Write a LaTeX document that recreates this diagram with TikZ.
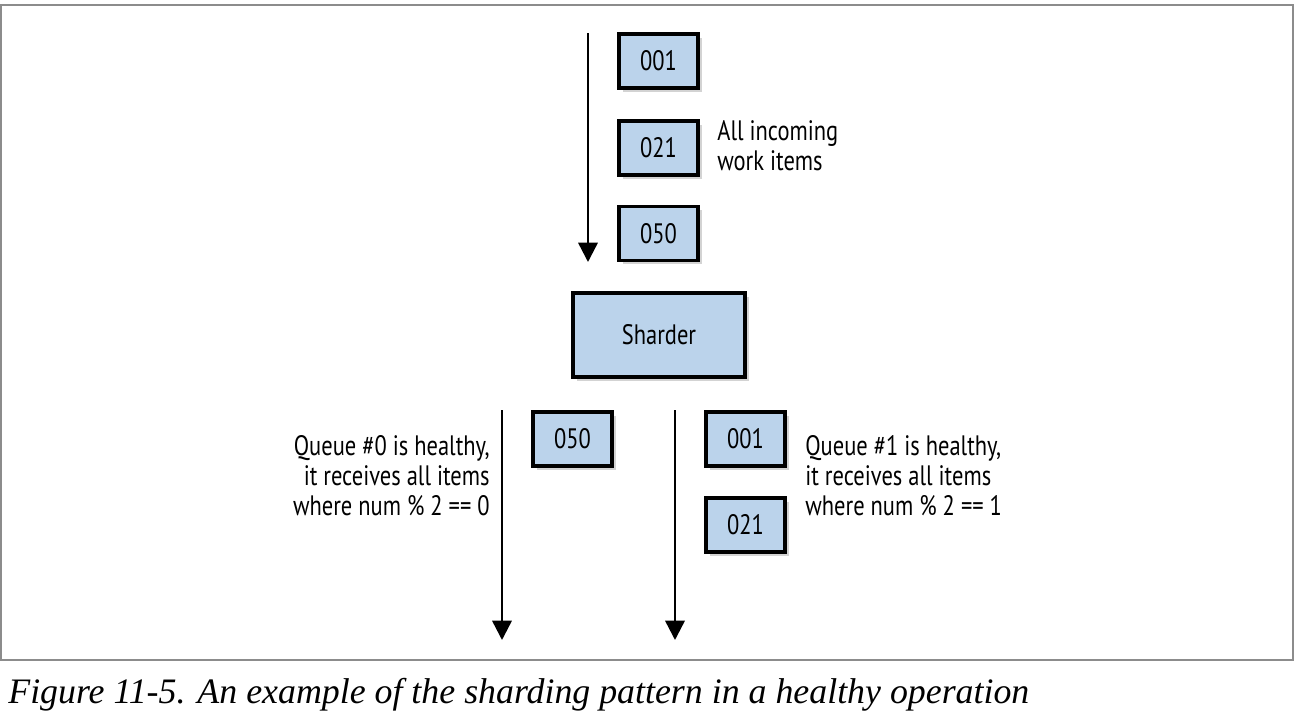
\documentclass[tikz,border=0pt]{standalone}
\usepackage{fontspec}
\setmainfont{Liberation Serif}
\newfontfamily\boxfont[FakeStretch=0.8]{PT Sans}
\usetikzlibrary{positioning,shadows,arrows.meta}

\definecolor{itm} {RGB}{187,211,235}
\definecolor{frm} {RGB}{140,140,140}

\begin{document}
\begin{tikzpicture}[x=0.02cm,y=-0.02cm,
    item/.style={draw,line width=1.8pt,fill=itm,minimum width=1.58cm,minimum height=1.08cm,
      font=\boxfont\fontsize{16}{17}\selectfont,
      drop shadow={shadow xshift=2pt,shadow yshift=-2pt,opacity=.35}},
    note/.style={font=\boxfont\fontsize{16}{17}\selectfont,inner sep=0pt},
    flow/.style={line width=1.4pt,-{Triangle[length=11pt,width=11pt]}}]

    \useasboundingbox (0,0) rectangle (1296,724);
    \draw[frm,line width=.8pt] (1,5) rectangle (1293,660);

    % incoming items
    \node[item] (i1) at (658.5,61) {001};
    \node[item] (i2) at (658.5,148) {021};
    \node[item] (i3) at (658.5,233.5) {050};
    \node[note,align=left,anchor=west] (all) at (717,146) {All incoming\\work items};
    \coordinate (in0) at (588,33);
    \coordinate (in1) at (588,262);
    \draw[flow] (in0) to (in1);

    \node[item,minimum width=3.44cm,minimum height=1.68cm] (sh) at (659,335) {Sharder};

    % queue 0
    \coordinate (q0a) at (502,410);
    \coordinate (q0b) at (502,640);
    \draw[flow] (q0a) to (q0b);
    \node[item] (q0i) at (572.5,439) {050};
    \node[note,align=right,anchor=east] (q0t) at (490,476) {Queue \#0 is healthy,\\it receives all items\\where num \% 2 == 0};

    % queue 1
    \coordinate (q1a) at (675,410);
    \coordinate (q1b) at (675,640);
    \draw[flow] (q1a) to (q1b);
    \node[item] (q1i) at (745.5,439) {001};
    \node[item] (q1j) at (745.5,525) {021};
    \node[note,align=left,anchor=west] (q1t) at (805,476) {Queue \#1 is healthy,\\it receives all items\\where num \% 2 == 1};

    \node[anchor=base west,inner sep=0pt,font=\itshape\fontsize{20.4}{21}\selectfont] (cap) at (8,703)
      {Figure 11-5. An example of the sharding pattern in a healthy operation};

\end{tikzpicture}
\end{document}
